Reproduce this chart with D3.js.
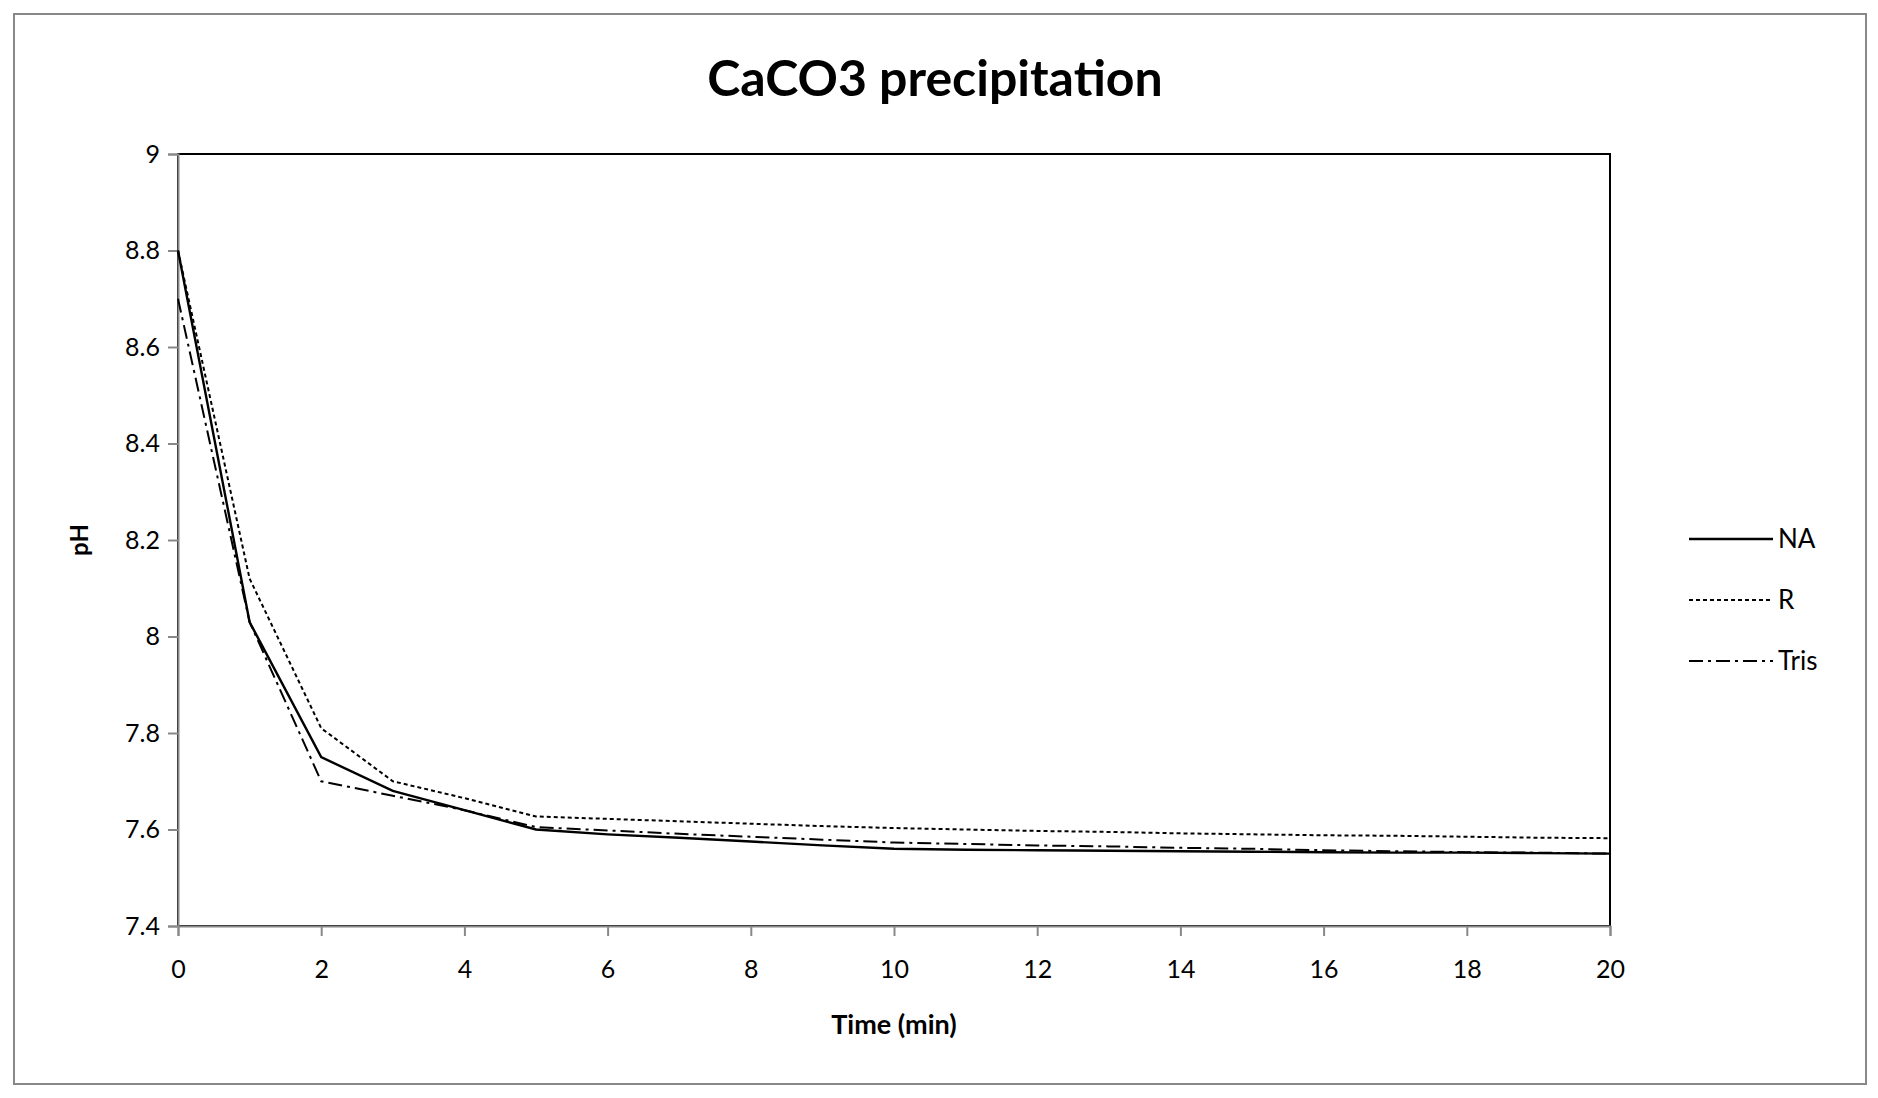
<!DOCTYPE html>
<html><head><meta charset="utf-8">
<script src="https://cdn.jsdelivr.net/npm/d3@7"></script>
<style>body{margin:0;background:#fff}svg{font-family:Lato,"Open Sans",sans-serif}</style>
</head><body><svg id="c" width="1878" height="1098"></svg>
<script>
const times = [0,1,2,3,4,5,6,7,8,9,10,11,12,13,14,15,16,17,18,19,20];
const naValues = [8.8,8.03,7.75,7.68,7.64,7.60,7.59,7.583,7.575,7.567,7.56,7.558,7.557,7.556,7.555,7.554,7.553,7.552,7.552,7.551,7.55];
const rValues = [8.8,8.12,7.81,7.70,7.665,7.627,7.622,7.617,7.612,7.607,7.603,7.600,7.597,7.595,7.592,7.590,7.588,7.587,7.585,7.583,7.582];
const trisValues = [8.7,8.03,7.70,7.67,7.64,7.605,7.598,7.591,7.585,7.579,7.573,7.57,7.567,7.565,7.562,7.56,7.557,7.555,7.553,7.552,7.55];
const series = [
  {name:'NA', values:naValues, dash:null, width:2.4},
  {name:'R', values:rValues, dash:'4,3', width:2},
  {name:'Tris', values:trisValues, dash:'14,5,3,5', width:2}
];
const xTicks = d3.range(0,21,2);
const yTicks = [7.4,7.6,7.8,8,8.2,8.4,8.6,8.8,9];

const svg = d3.select('#c');
const m = {left:178,right:1610,top:154,bottom:926};
const x = d3.scaleLinear().domain([0,20]).range([m.left,m.right]);
const y = d3.scaleLinear().domain([7.4,9]).range([m.bottom,m.top]);

svg.append('rect').attr('x',14).attr('y',14).attr('width',1852).attr('height',1070)
  .attr('fill','#fff').attr('stroke','#888').attr('stroke-width',2);

svg.append('text').attr('x',935).attr('y',96).attr('text-anchor','middle')
  .attr('font-size',50).attr('font-weight','bold').text('CaCO3 precipitation');

svg.append('rect').attr('x',m.left).attr('y',m.top).attr('width',m.right-m.left).attr('height',m.bottom-m.top)
  .attr('fill','none').attr('stroke','#000').attr('stroke-width',2);

const xa = svg.append('g').attr('transform',`translate(0,${m.bottom})`)
  .call(d3.axisBottom(x).tickValues(xTicks).tickSize(10).tickPadding(14).tickFormat(d3.format('d')));
const ya = svg.append('g').attr('transform',`translate(${m.left},0)`)
  .call(d3.axisLeft(y).tickValues(yTicks).tickSize(10).tickPadding(8).tickFormat(d=>String(+d.toFixed(1))));
[xa,ya].forEach(a=>{
  a.select('.domain').attr('stroke','#888').attr('stroke-width',2);
  a.selectAll('.tick line').attr('stroke','#888').attr('stroke-width',2);
  a.selectAll('text').attr('font-size',25).attr('fill','#000').attr('font-family','Lato,sans-serif');
});
xa.selectAll('text').attr('dy','1.1em');

svg.append('text').attr('x',(m.left+m.right)/2).attr('y',1034).attr('text-anchor','middle')
  .attr('font-size',27).attr('font-weight','bold').text('Time (min)');
svg.append('text').attr('transform',`translate(88,${(m.top+m.bottom)/2}) rotate(-90)`).attr('text-anchor','middle')
  .attr('font-size',24).attr('font-weight','bold').text('pH');

const line = d3.line().x((d,i)=>x(times[i])).y(d=>y(d));
series.forEach(s=>{
  svg.append('path').datum(s.values).attr('d',line).attr('fill','none')
    .attr('stroke','#000').attr('stroke-width',s.width).attr('stroke-dasharray',s.dash);
});

const lg = svg.append('g');
series.forEach((s,i)=>{
  const yy = 539 + i*61;
  lg.append('line').attr('x1',1689).attr('x2',1773).attr('y1',yy).attr('y2',yy)
    .attr('stroke','#000').attr('stroke-width',s.width).attr('stroke-dasharray',s.dash);
  lg.append('text').attr('x',1778).attr('y',yy+9).attr('font-size',26).text(s.name);
});
</script></body></html>
